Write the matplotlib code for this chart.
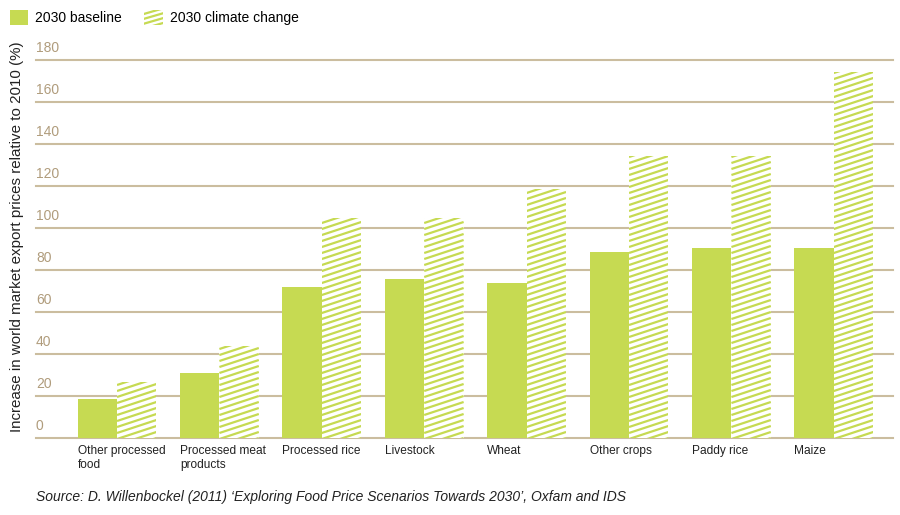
import numpy as np
import matplotlib.pyplot as plt
from matplotlib.patches import Rectangle, Patch
from matplotlib.legend_handler import HandlerPatch

plt.rcParams["font.family"] = ["Liberation Sans", "DejaVu Sans"]

categories = ["Other processed\nfood", "Processed meat\nproducts", "Processed rice",
              "Livestock", "Wheat", "Other crops", "Paddy rice", "Maize"]
baseline = [18.5, 31, 72, 75.5, 74, 88.5, 90.5, 90.5]
climate = [26.5, 44, 105, 105, 118.5, 134.5, 134.5, 174.5]
yticks = [0, 20, 40, 60, 80, 100, 120, 140, 160, 180]

green = "#c6da52"
tan = "#cbbd9f"
tick_col = "#b09c7c"

fig = plt.figure(figsize=(9, 5.15), dpi=100)
ax = fig.add_axes([36 / 900, 1 - 438 / 515, (893 - 36) / 900, (438 - 60) / 515])

x = np.arange(len(categories))
w = 0.385
ax.set_xlim(-0.791, 7.578)
ax.set_ylim(0, 180)

# gridlines
for t in yticks:
    ax.axhline(t, color=tan, lw=1.5, zorder=0, clip_on=False)
    ax.text(0.0, t + 5.5, str(t), transform=ax.get_yaxis_transform(),
            color=tick_col, fontsize=10, ha="left", va="center")

ax.bar(x - w / 2, baseline, width=w, color=green, zorder=2)
climate_bars = ax.bar(x + w / 2, climate, width=w, color="white", zorder=2)

# shallow diagonal stripes inside climate bars
px_x = 102.4
px_y = 2.1
slope = 0.33 * px_x / px_y
step = 6.0 / px_y
for rect in climate_bars:
    x0 = rect.get_x()
    x1 = x0 + rect.get_width()
    h = rect.get_height()
    for c in np.arange(-slope * rect.get_width(), h + step, step):
        ln, = ax.plot([x0, x1], [c, c + slope * (x1 - x0)], color=green,
                      lw=1.6, zorder=3, solid_capstyle="butt")
        ln.set_clip_path(rect)

for xi, lab in zip(x, categories):
    ax.text(xi - w, -3.5, lab, ha="left", va="top", fontsize=8.6, color="#222222",
            linespacing=1.2)

for s in ax.spines.values():
    s.set_visible(False)
ax.set_xticks([])
ax.set_yticks([])

fig.text(17 / 900, 1 - 237 / 515,
         "Increase in world market export prices relative to 2010 (%)",
         rotation=90, ha="center", va="center", fontsize=10.9, color="#222222")

fig.text(36 / 900, 1 - 497 / 515,
         "Source: D. Willenbockel (2011) \u2018Exploring Food Price Scenarios Towards 2030\u2019, Oxfam and IDS",
         ha="left", va="center", fontsize=10, style="italic", color="#222222")


# striped legend handle for the climate-change series
class StripeHandler(HandlerPatch):
    def create_artists(self, legend, orig_handle, xdescent, ydescent, width,
                       height, fontsize, trans):
        arts = []
        base = Rectangle((-xdescent, -ydescent), width, height, facecolor="white",
                         edgecolor="none", transform=trans)
        arts.append(base)
        for k in range(4):
            yy = -ydescent + k * height / 3.2 - height * 0.2
            l = plt.Line2D([-xdescent, -xdescent + width],
                           [yy, yy + height * 0.35], color=green, lw=1.6,
                           transform=trans)
            l.set_clip_path(base)
            arts.append(l)
        return arts


h1 = Patch(facecolor=green)
h2 = Patch(facecolor="white")
leg = fig.legend([h1, h2], ["2030 baseline", "2030 climate change"],
                 loc="upper left", bbox_to_anchor=(0.0, 1.0), ncol=2,
                 frameon=False, fontsize=10, handlelength=1.35, handleheight=1.35,
                 handletextpad=0.5, columnspacing=1.6, borderaxespad=0.3,
                 handler_map={h2: StripeHandler()})

fig.savefig("out.png", dpi=100)
